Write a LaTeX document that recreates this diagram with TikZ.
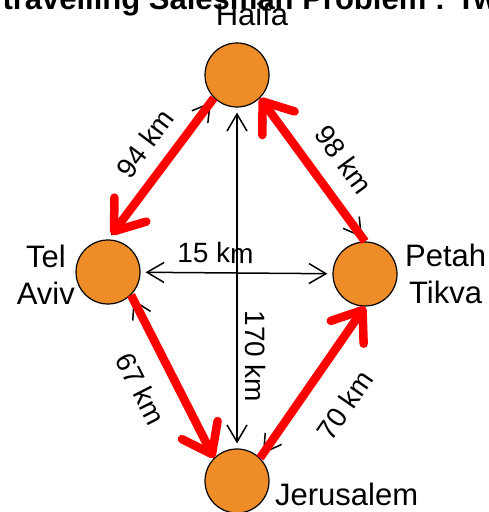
\documentclass[tikz,border=0pt]{standalone}
\usepackage{fontspec}
\setmainfont{Liberation Sans}
\usetikzlibrary{arrows.meta}

\definecolor{cityorange}{RGB}{238,140,40}
\newcommand{\cityfont}{\fontsize{31}{37}\selectfont}
\newcommand{\kmfont}{\fontsize{28}{34}\selectfont}
\newcommand{\titlefont}{\fontsize{31}{37}\selectfont\bfseries}

\begin{document}
\begin{tikzpicture}[x=1pt, y=1pt,
	city/.style={draw, circle, line width=1.2pt, fill=cityorange, minimum size=64pt, inner sep=0pt},
	road/.style={{Straight Barb[length=17pt,width=20pt]}-{Straight Barb[length=17pt,width=20pt]}, line width=1.5pt, shorten <=5pt, shorten >=5pt},
	tour/.style={-{Straight Barb[length=27pt,width=40pt,round]}, line width=8.5pt, red},
	dist/.style={font=\kmfont, sloped}]
				\useasboundingbox (0,0) rectangle (488,512);
				\node[anchor=base west, font=\titlefont] (title) at (-1, 502) {travelling Salesman Problem : Tw};
				\node[city, label={[font=\cityfont, label distance=12.6pt, xshift=15pt]{above}:Haifa}] (H) at (237, 437) {};
				\node[city, label={[font=\cityfont, label distance=-3pt, yshift=-3pt, align=center]{left}:Tel\\Aviv}] (T) at (108, 240) {};
				\node[city, label={[font=\cityfont, label distance=4pt, align=center]{right}:Petah\\Tikva}] (P) at (365, 238) {};
				\node[city, label={[font=\cityfont, label distance=2pt, yshift=-13pt]{right}:Jerusalem}] (J) at (237, 31) {};
				% all roads
				\draw[road] (T) -- (P) node[dist, pos=0.39, above=5.5pt] {15 km};
				\draw[road] (H.south) -- (J.north) node[dist, pos=0.73, above=4.5pt] {170 km};
				\draw[road] (H.south west) -- (T.north);
				\draw[road] (T.south east) -- (J.north west);
				\draw[road] (J.north east) -- (P.south);
				\draw[road] (P.north) -- (H.south east);
				% tour
				\draw[tour, shorten >=6pt] (H.south west) -- (T.north) node[dist, pos=0.44, above=10pt, black] {94 km};
				\draw[tour] (T.south east) -- (J.north west) node[dist, pos=0.48, below=16pt, black] {67 km};
				\draw[tour] (J.north east) -- (P.south) node[dist, pos=0.5, below=22pt, black] {70 km};
				\draw[tour] (P.north) -- (H.south east) node[dist, pos=0.44, above=13.5pt, black] {98 km};
			\end{tikzpicture}
\end{document}
